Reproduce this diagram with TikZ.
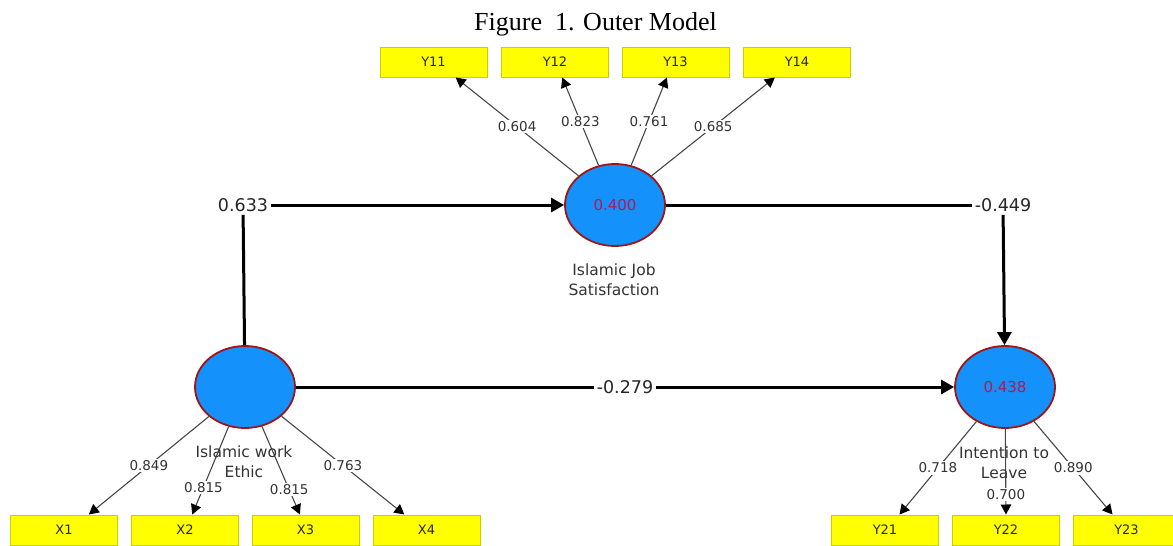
\documentclass[tikz,border=0pt]{standalone}
\usepackage{fontspec}
\setmainfont{DejaVu Sans}
\newfontfamily\titlefont{Liberation Serif}
\usetikzlibrary{arrows.meta,shapes.geometric}
\definecolor{lvfill}{RGB}{20,145,250}
\definecolor{lvborder}{RGB}{160,20,20}
\definecolor{lvtext}{RGB}{190,20,80}
\definecolor{boxfill}{RGB}{255,255,0}
\definecolor{boxborder}{RGB}{205,205,0}
\definecolor{loadline}{RGB}{70,70,70}
\begin{document}
\begin{tikzpicture}[x=1pt,y=-1pt,
 latent/.style={ellipse,draw=lvborder,line width=1.8pt,fill=lvfill,minimum width=100pt,minimum height=82pt,inner sep=0pt,text=lvtext,font=\fontsize{15}{18}\selectfont},
 indicator/.style={rectangle,draw=boxborder,line width=1pt,fill=boxfill,minimum width=107pt,minimum height=30pt,inner sep=0pt,font=\fontsize{13}{15}\selectfont,text=black!85},
 desc/.style={align=center,font=\fontsize{15.5}{20}\selectfont,text=black!80,inner sep=0pt},
 coef/.style={fill=white,inner sep=3pt,font=\fontsize{17.5}{20}\selectfont,text=black!85},
 coefline/.style={line width=3pt,black},
 coefarrow/.style={coefline,-{Triangle[length=13pt,width=14pt]}},
 load/.style={draw=loadline,line width=1.1pt,-{Triangle[length=10pt,width=10.5pt,color=black]}},
 loadlabel/.style={fill=white,inner sep=1.5pt,font=\fontsize{13.5}{16}\selectfont,text=black!80}
]
\useasboundingbox (0,0) rectangle (1173,546);
\clip (0,0) rectangle (1173,546);

% title
\node[anchor=base,inner sep=0pt,font=\titlefont\fontsize{26}{30}\selectfont] (title) at (595.5,30) {Figure\ \ 1. Outer Model};

% indicators
\node[indicator] (y11) at (433.5,62) {Y11};
\node[indicator] (y12) at (555,62) {Y12};
\node[indicator] (y13) at (675.5,62) {Y13};
\node[indicator] (y14) at (797,62) {Y14};
\node[indicator] (x1) at (64,530) {X1};
\node[indicator] (x2) at (185,530) {X2};
\node[indicator] (x3) at (305.5,530) {X3};
\node[indicator] (x4) at (426.5,530) {X4};
\node[indicator] (y21) at (885,530) {Y21};
\node[indicator] (y22) at (1006,530) {Y22};
\node[indicator] (y23) at (1126.5,530) {Y23};

% latent variables
\node[latent] (ijs) at (615,205) {0.400};
\node[latent] (iwe) at (245,387) {};
\node[latent] (itl) at (1005,387) {0.438};

% loadings
\draw[load] (ijs) -- node[loadlabel,pos=0.5] {0.604} (y11.-35);
\draw[load] (ijs) -- node[loadlabel,pos=0.5] {0.823} (y12.-65);
\draw[load] (ijs) -- node[loadlabel,pos=0.5] {0.761} (y13.-119.5);
\draw[load] (ijs) -- node[loadlabel,pos=0.5] {0.685} (y14.-145.7);
\draw[load] (iwe) -- node[loadlabel,pos=0.5] {0.849} (x1.32);
\draw[load] (iwe) -- node[loadlabel,pos=0.69] {0.815} (x2.65);
\draw[load] (iwe) -- node[loadlabel,pos=0.72] {0.815} (x3.110);
\draw[load] (iwe) -- node[loadlabel,pos=0.5] {0.763} (x4.145);
\draw[load] (itl) -- node[loadlabel,pos=0.5] {0.718} (y21.47);
\draw[load] (itl) -- node[loadlabel,pos=0.77] {0.700} (y22.north);
\draw[load] (itl) -- node[loadlabel,pos=0.5] {0.890} (y23.132);

% descriptions
\node[desc] (ijsname) at (614,280) {Islamic Job\\Satisfaction};
\node[desc] (iwename) at (244,462) {Islamic work\\Ethic};
\node[desc] (itlname) at (1004,463) {Intention to\\Leave};

% path coefficients
\node[coef] (c1) at (243,205) {0.633};
\node[coef] (c2) at (1003,205) {-0.449};
\draw[coefline] (iwe) -- (c1);
\draw[coefarrow] (c1) -- (ijs);
\draw[coefline] (ijs) -- (c2);
\draw[coefarrow] (c2) -- (itl);
\draw[coefarrow] (iwe) -- node[coef,pos=0.5] {-0.279} (itl);
\end{tikzpicture}
\end{document}
